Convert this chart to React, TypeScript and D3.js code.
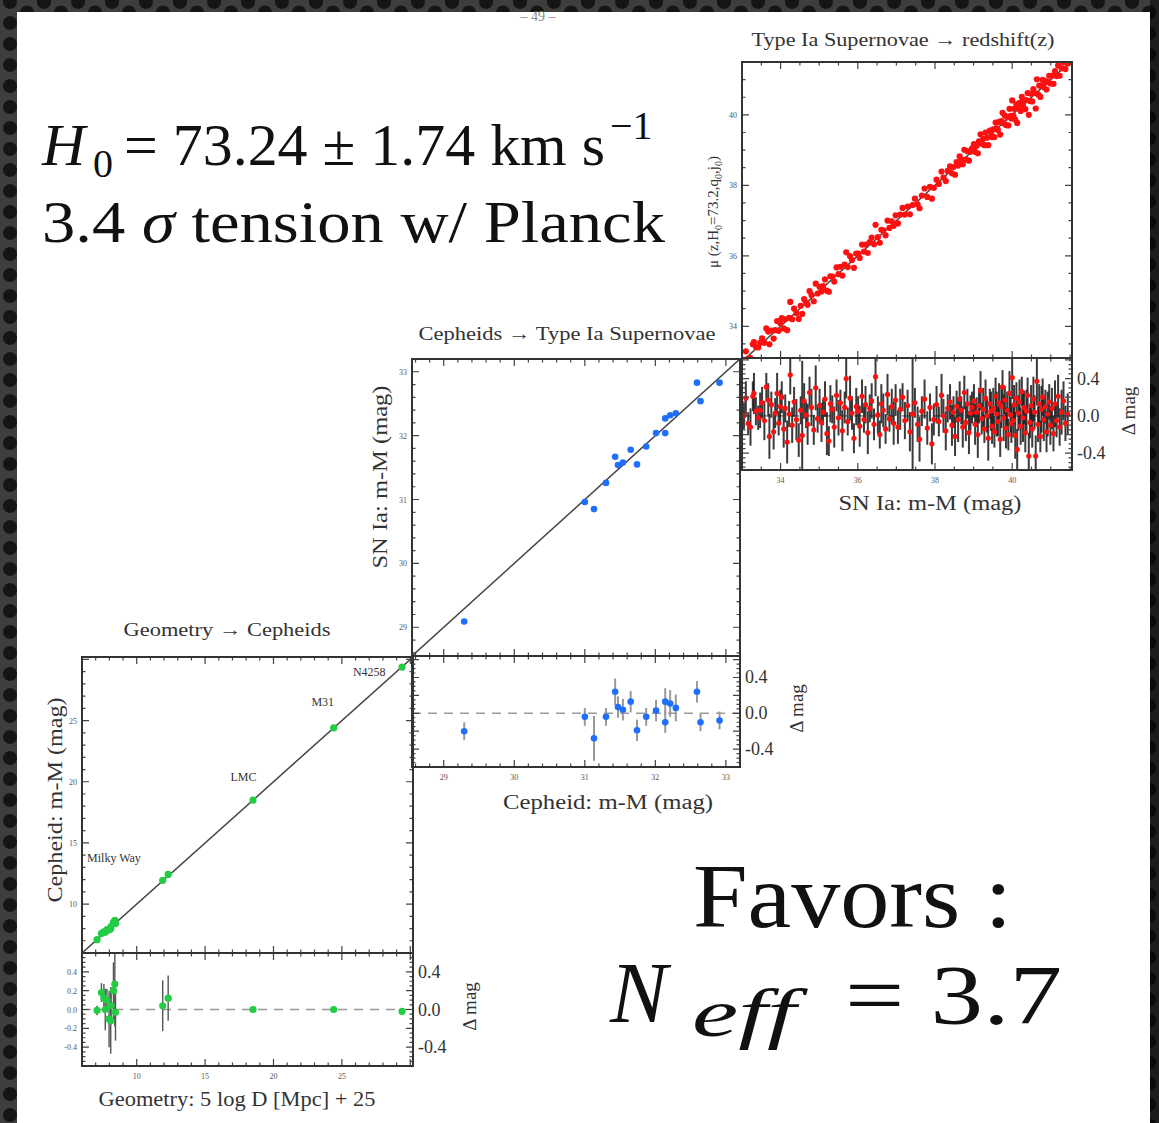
import React from "react";
import * as d3 from "d3";

const W = 1159;
const H = 1123;

// ---------- DATA ----------
// Geometry -> Cepheids (green)
const geoNames = ["Milky Way", "LMC", "M31", "N4258"];
const geoNameX = [6.37, 17.8, 23.6, 27.0];
const geoNameY = [13.45, 20.05, 26.2, 28.65];
const geoX = [7.1, 7.42, 7.6, 7.7, 7.82, 7.98, 8.1, 8.12, 8.3, 8.4, 8.45, 11.9, 12.3, 18.5, 24.4, 29.4];
const geoRes = [-0.01, 0.18, 0.12, 0.0, 0.1, -0.1, -0.12, 0.04, 0.2, 0.27, -0.03, 0.04, 0.12, 0.0, 0.0, -0.02];
const geoErr = [0.05, 0.1, 0.15, 0.22, 0.12, 0.3, 0.35, 0.2, 0.3, 0.45, 0.3, 0.27, 0.24, 0.02, 0.03, 0.03];

// Cepheids -> SN Ia (blue)
const cephX = [29.29, 31.0, 31.13, 31.3, 31.43, 31.47, 31.54, 31.65, 31.74, 31.87, 32.01, 32.14, 32.14, 32.21, 32.29, 32.59, 32.64, 32.91];
const cephRes = [-0.2, -0.04, -0.28, -0.04, 0.24, 0.07, 0.04, 0.13, -0.19, -0.04, 0.03, 0.13, -0.1, 0.11, 0.06, 0.24, -0.1, -0.08];
const cephErr = [0.1, 0.1, 0.25, 0.1, 0.15, 0.12, 0.12, 0.12, 0.12, 0.1, 0.12, 0.15, 0.12, 0.15, 0.15, 0.12, 0.1, 0.1];

// SN Ia -> redshift (red)
const snMu = [
  33.05, 33.10, 33.16, 33.22, 33.28, 33.31, 33.36, 33.42, 33.47, 33.52,
  33.58, 33.63, 33.68, 33.71, 33.76, 33.82, 33.86, 33.91, 33.95, 33.99,
  34.03, 34.08, 34.12, 34.17, 34.22, 34.25, 34.30, 34.35, 34.41, 34.47,
  34.52, 34.56, 34.61, 34.66, 34.70, 34.75, 34.80, 34.86, 34.91, 34.96,
  35.01, 35.06, 35.10, 35.15, 35.20, 35.25, 35.29, 35.34, 35.39, 35.45,
  35.50, 35.55, 35.60, 35.66, 35.70, 35.74, 35.80, 35.85, 35.90, 35.96,
  36.01, 36.05, 36.11, 36.16, 36.20, 36.26, 36.31, 36.36, 36.42, 36.46,
  36.52, 36.57, 36.61, 36.66, 36.72, 36.77, 36.82, 36.88, 36.93, 36.98,
  37.04, 37.10, 37.16, 37.22, 37.29, 37.35, 37.42, 37.48,
  37.55, 37.60, 37.66, 37.73, 37.80, 37.87, 37.92, 37.97,
  38.04, 38.10, 38.17, 38.22, 38.28, 38.33, 38.39, 38.44, 38.48,
  38.52, 38.56, 38.60, 38.64, 38.68, 38.72, 38.76, 38.80, 38.84, 38.88, 38.92, 38.96,
  39.01, 39.04, 39.08, 39.11, 39.14, 39.18, 39.21, 39.25, 39.28, 39.31, 39.35, 39.38, 39.42, 39.45, 39.48,
  39.51, 39.54, 39.57, 39.60, 39.63, 39.66, 39.69, 39.72, 39.75, 39.78, 39.81, 39.84, 39.87, 39.90, 39.93, 39.96, 39.98,
  40.00, 40.03, 40.05, 40.08, 40.11, 40.13, 40.16, 40.19, 40.22, 40.25, 40.28, 40.31, 40.34, 40.37, 40.40, 40.43, 40.46, 40.49,
  40.52, 40.55, 40.58, 40.61, 40.64, 40.67, 40.70, 40.73, 40.76, 40.79, 40.82, 40.86, 40.89, 40.92, 40.96, 40.99,
  41.03, 41.07, 41.11, 41.15, 41.19, 41.23, 41.28, 41.33, 41.38, 41.44,
];
const snRes = [
  0.00, 0.19, -0.08, -0.12, 0.21, 0.24, 0.05, -0.02, 0.06, 0.14,
  -0.05, 0.31, 0.17, -0.22, 0.12, -0.17, 0.03, 0.24, -0.08, 0.10,
  0.20, -0.14, 0.08, -0.28, 0.02, 0.44, -0.10, 0.15, -0.04, -0.26,
  0.06, -0.21, 0.16, 0.01, -0.09, 0.25, 0.09, -0.15, 0.30, -0.03,
  0.11, -0.07, 0.04, 0.18, -0.19, -0.27, 0.13, 0.07, -0.12, 0.22,
  -0.02, 0.14, -0.16, 0.09, 0.40, -0.06, 0.19, 0.03, -0.24, 0.10,
  0.05, -0.11, 0.21, -0.04, 0.12, -0.18, 0.08, 0.16, -0.09, 0.42,
  0.01, -0.20, 0.13, 0.06, -0.14, 0.23, -0.03, 0.10, -0.08, 0.17,
  -0.12, 0.07, 0.20, -0.05, 0.11, -0.17, 0.02, 0.14,
  -0.09, -0.25, 0.05, 0.18, -0.13, 0.09, -0.30, -0.04,
  0.12, -0.06, 0.22, 0.00, -0.16, 0.08, 0.15, -0.10, 0.04,
  -0.22, 0.10, -0.04, 0.18, 0.06, -0.12, 0.25, -0.07, 0.13, -0.18, 0.03, 0.09,
  0.16, -0.09, 0.04, -0.20, 0.11, 0.27, -0.03, 0.07, -0.14, 0.19, 0.00, -0.24, 0.13, 0.05, -0.11,
  0.08, -0.17, 0.21, 0.02, -0.06, 0.14, -0.25, 0.10, 0.31, -0.02, 0.17, -0.13, 0.06, -0.20, 0.24, 0.01, -0.08,
  0.41, -0.05, 0.12, -0.21, 0.19, -0.36, 0.03, 0.15, -0.11, 0.26, -0.02, 0.09, -0.18, 0.05, 0.22, -0.43, -0.07, 0.11,
  -0.14, 0.18, 0.04, -0.43, 0.37, -0.09, 0.13, -0.22, 0.07, 0.20, -0.04, 0.10, -0.17, 0.02, 0.15, -0.10,
  0.08, -0.19, 0.13, -0.05, 0.21, -0.12, 0.04, 0.16, -0.08, 0.02,
];
const snErr = [
  0.14, 0.18, 0.12, 0.20, 0.16, 0.22, 0.15, 0.13, 0.19, 0.17,
  0.21, 0.15, 0.18, 0.24, 0.14, 0.19, 0.16, 0.22, 0.13, 0.18,
  0.17, 0.20, 0.15, 0.23, 0.14, 0.21, 0.19, 0.16, 0.22, 0.18,
  0.15, 0.80, 0.19, 0.14, 0.22, 0.17, 0.20, 0.16, 0.24, 0.15,
  0.18, 0.21, 0.14, 0.19, 0.23, 0.16, 0.20, 0.15, 0.22, 0.17,
  0.19, 0.14, 0.22, 0.17, 0.21, 0.15, 0.24, 0.18, 0.16, 0.20,
  0.16, 0.22, 0.18, 0.14, 0.20, 0.23, 0.15, 0.19, 0.17, 0.21,
  0.20, 0.15, 0.21, 0.18, 0.16, 0.22, 0.14, 0.19, 0.23, 0.17,
  0.18, 0.22, 0.15, 0.20, 0.17, 0.21, 0.80, 0.16,
  0.19, 0.24, 0.16, 0.21, 0.18, 0.15, 0.22, 0.17,
  0.20, 0.16, 0.23, 0.18, 0.21, 0.15, 0.19, 0.22, 0.17,
  0.21, 0.17, 0.24, 0.19, 0.15, 0.22, 0.18, 0.20, 0.16, 0.23, 0.19, 0.17,
  0.18, 0.22, 0.16, 0.25, 0.19, 0.21, 0.17, 0.23, 0.15, 0.20, 0.18, 0.24, 0.16, 0.21, 0.19,
  0.22, 0.17, 0.20, 0.24, 0.16, 0.21, 0.19, 0.23, 0.18, 0.25, 0.15, 0.22, 0.20, 0.17, 0.24, 0.19, 0.21,
  0.23, 0.18, 0.21, 0.25, 0.17, 0.22, 0.19, 0.24, 0.20, 0.16, 0.26, 0.18, 0.21, 0.23, 0.19, 0.25, 0.17, 0.22,
  0.20, 0.24, 0.18, 0.22, 0.26, 0.19, 0.21, 0.17, 0.25, 0.20, 0.23, 0.18, 0.22, 0.24, 0.19, 0.21,
  0.22, 0.19, 0.25, 0.18, 0.23, 0.20, 0.24, 0.21, 0.19, 0.22,
];

// tick labels
const geoTickLabels = [10, 15, 20, 25];
const cephTickLabels = [29, 30, 31, 32, 33];
const snTickLabels = [34, 36, 38, 40];
const resBigTicks = [0.4, 0.0, -0.4];
const resSmallTicks = [0.4, 0.2, 0.0, -0.2, -0.4];

// ---------- LAYOUT ----------
const SERIF = "Liberation Serif, Times New Roman, serif";
const FRAME = "#333";

type Cfg = {
  id: string;
  x0: number; x1: number; y0: number; ym: number; y1: number;
  xDom: [number, number]; yDom: [number, number]; rDom: [number, number];
  xMaj: number; xMin: number; yMaj: number; yMin: number;
};

const P1: Cfg = { id: "p1", x0: 82, x1: 413, y0: 657, ym: 953, y1: 1066, xDom: [6, 30.2], yDom: [6, 30.2], rDom: [-0.6, 0.6], xMaj: 5, xMin: 1, yMaj: 5, yMin: 1 };
const P2: Cfg = { id: "p2", x0: 412, x1: 740, y0: 359, ym: 656, y1: 767, xDom: [28.55, 33.2], yDom: [28.55, 33.2], rDom: [-0.6, 0.64], xMaj: 1, xMin: 0.2, yMaj: 1, yMin: 0.2 };
const P3: Cfg = { id: "p3", x0: 742, x1: 1072, y0: 62, ym: 358, y1: 470, xDom: [33, 41.55], yDom: [33.1, 41.5], rDom: [-0.58, 0.62], xMaj: 2, xMin: 0.5, yMaj: 2, yMin: 0.5 };

function steps(dom: [number, number], step: number) {
  const out: number[] = [];
  const s = Math.ceil(dom[0] / step - 1e-6);
  const e = Math.floor(dom[1] / step + 1e-6);
  for (let i = s; i <= e; i++) out.push(+(i * step).toFixed(6));
  return out;
}

function tickPath(x0: number, x1: number, y0: number, y1: number, xs: any, ys: any, xMaj: number, xMin: number, yMaj: number, yMin: number) {
  let d = "";
  const dx = xs.domain() as [number, number];
  const dy = ys.domain() as [number, number];
  steps(dx, xMin).forEach((v) => {
    const major = Math.abs(v / xMaj - Math.round(v / xMaj)) < 1e-6;
    const L = major ? 7 : 3.5;
    const x = xs(v);
    d += `M${x},${y1}v${-L}M${x},${y0}v${L}`;
  });
  steps(dy, yMin).forEach((v) => {
    const major = Math.abs(v / yMaj - Math.round(v / yMaj)) < 1e-6;
    const L = major ? 7 : 3.5;
    const y = ys(v);
    d += `M${x0},${y}h${L}M${x1},${y}h${-L}`;
  });
  return d;
}

function Panel({ c, xs, res, err, color, errColor, errWidth, errOpacity, r, mainR, xLabels, yLabels, leftRes }: any) {
  const x = d3.scaleLinear().domain(c.xDom).range([c.x0, c.x1]);
  const y = d3.scaleLinear().domain(c.yDom).range([c.ym, c.y0]);
  const ry = d3.scaleLinear().domain(c.rDom).range([c.y1, c.ym]);
  const lo = Math.max(c.xDom[0], c.yDom[0]);
  const hi = Math.min(c.xDom[1], c.yDom[1]);
  const diag = d3.line<number>().x((v) => x(v)).y((v) => y(v))([lo - 1, hi + 1]) || "";
  const zero = d3.line<number>().x((v) => x(v)).y(() => ry(0))(c.xDom) || "";
  return (
    <g>
      <defs>
        <clipPath id={c.id + "m"}><rect x={c.x0} y={c.y0} width={c.x1 - c.x0} height={c.ym - c.y0} /></clipPath>
        <clipPath id={c.id + "r"}><rect x={c.x0} y={c.ym} width={c.x1 - c.x0} height={c.y1 - c.ym} /></clipPath>
      </defs>
      {/* main */}
      <g clipPath={`url(#${c.id}m)`}>
        <path d={diag} stroke="#444" strokeWidth={1.5} fill="none" />
        {xs.map((v: number, i: number) => (
          <circle key={i} cx={x(v)} cy={y(v + res[i])} r={mainR} fill={color} />
        ))}
      </g>
      <path d={tickPath(c.x0, c.x1, c.y0, c.ym, x, y, c.xMaj, c.xMin, c.yMaj, c.yMin)} stroke="#444" strokeWidth={1.2} fill="none" />
      <rect x={c.x0} y={c.y0} width={c.x1 - c.x0} height={c.ym - c.y0} fill="none" stroke={FRAME} strokeWidth={2} />
      {/* residual */}
      <g clipPath={`url(#${c.id}r)`}>
        <path d={zero} stroke="#999" strokeWidth={1.6} strokeDasharray="9,7" fill="none" />
        {xs.map((v: number, i: number) => (
          <line key={"e" + i} x1={x(v)} x2={x(v)} y1={ry(res[i] - err[i])} y2={ry(res[i] + err[i])} stroke={errColor} strokeWidth={errWidth} opacity={errOpacity} />
        ))}
        {xs.map((v: number, i: number) => (
          <circle key={"r" + i} cx={x(v)} cy={ry(res[i])} r={r} fill={color} />
        ))}
      </g>
      <path d={tickPath(c.x0, c.x1, c.ym, c.y1, x, ry, c.xMaj, c.xMin, 0.2, 0.05)} stroke="#444" strokeWidth={1.2} fill="none" />
      <rect x={c.x0} y={c.ym} width={c.x1 - c.x0} height={c.y1 - c.ym} fill="none" stroke={FRAME} strokeWidth={2} />
      {/* small tick labels */}
      {xLabels.map((v: number) => (
        <text key={"xl" + v} x={x(v)} y={c.y1 + 13} fontSize={8} fill="#555" textAnchor="middle" style={{ fontFamily: SERIF }}>{v}</text>
      ))}
      {yLabels.map((v: number) => (
        <text key={"yl" + v} x={c.x0 - 5} y={y(v) + 3} fontSize={8} fill="#555" textAnchor="end" style={{ fontFamily: SERIF }}>{v}</text>
      ))}
      {leftRes && resSmallTicks.map((v: number) => (
        <text key={"rl" + v} x={c.x0 - 5} y={ry(v) + 3} fontSize={8} fill="#555" textAnchor="end" style={{ fontFamily: SERIF }}>{v.toFixed(1)}</text>
      ))}
      {resBigTicks.map((v: number) => (
        <text key={"rb" + v} x={c.x1 + 5} y={ry(v) + 6} fontSize={18} fill="#333" style={{ fontFamily: SERIF }}>{v.toFixed(1)}</text>
      ))}
      <text transform={`translate(${c.x1 + 63},${(c.ym + c.y1) / 2 - 3}) rotate(-90)`} fontSize={19} fill="#333" textAnchor="middle" style={{ fontFamily: SERIF }}>Δ mag</text>
    </g>
  );
}

const big = { fontFamily: SERIF, fill: "#111" } as const;

export default function App() {
  const x1s = d3.scaleLinear().domain(P1.xDom).range([P1.x0, P1.x1]);
  const y1s = d3.scaleLinear().domain(P1.yDom).range([P1.ym, P1.y0]);
  return (
    <svg width={W} height={H} style={{ position: "absolute", left: 0, top: 0, display: "block" }}>
      <defs>
        <pattern id="holes" width={34} height={21} patternUnits="userSpaceOnUse">
          <rect width={34} height={21} fill="#3e3e3e" />
          <circle cx={10} cy={2} r={7} fill="#151515" />
          <circle cx={10} cy={23} r={7} fill="#151515" />
          <circle cx={27} cy={12.5} r={7} fill="#151515" />
        </pattern>
      </defs>
      <rect width={W} height={H} fill="url(#holes)" />
      <rect x={1150} width={9} height={H} fill="#000" opacity={0.55} />
      <rect x={17} y={12} width={1133} height={H - 12} fill="#fff" />

      <text x={538} y={21} fontSize={14} fill="#888" textAnchor="middle" style={{ fontFamily: SERIF }}>– 49 –</text>

      {/* titles */}
      <text x={903} y={46} fontSize={19} fill="#333" textAnchor="middle" style={{ fontFamily: SERIF }} textLength={303} lengthAdjust="spacingAndGlyphs">Type Ia Supernovae → redshift(z)</text>
      <text x={567} y={340} fontSize={19} fill="#333" textAnchor="middle" style={{ fontFamily: SERIF }} textLength={297} lengthAdjust="spacingAndGlyphs">Cepheids → Type Ia Supernovae</text>
      <text x={227} y={636} fontSize={19} fill="#333" textAnchor="middle" style={{ fontFamily: SERIF }} textLength={207} lengthAdjust="spacingAndGlyphs">Geometry → Cepheids</text>

      <Panel c={P3} xs={snMu} res={snRes} err={snErr} color="#ff1010" errColor="#1a1a1a" errWidth={2} errOpacity={0.85} r={2.6} mainR={3.1} xLabels={snTickLabels} yLabels={snTickLabels} leftRes={false} />
      <Panel c={P2} xs={cephX} res={cephRes} err={cephErr} color="#1f6fff" errColor="#999" errWidth={2} errOpacity={1} r={3.3} mainR={3.3} xLabels={cephTickLabels} yLabels={cephTickLabels} leftRes={false} />
      <Panel c={P1} xs={geoX} res={geoRes} err={geoErr} color="#22cc44" errColor="#555" errWidth={1.4} errOpacity={1} r={3.6} mainR={3.6} xLabels={geoTickLabels} yLabels={geoTickLabels} leftRes />

      {/* point names */}
      {geoNames.map((n, i) => (
        <text key={n} x={x1s(geoNameX[i])} y={y1s(geoNameY[i])} fontSize={12} fill="#333" textAnchor={i === 0 ? "start" : "middle"} style={{ fontFamily: SERIF }}>{n}</text>
      ))}

      {/* axis titles */}
      <text x={930} y={510} fontSize={20} fill="#333" textAnchor="middle" style={{ fontFamily: SERIF }} textLength={183} lengthAdjust="spacingAndGlyphs">SN Ia: m-M (mag)</text>
      <text x={608} y={809} fontSize={20} fill="#333" textAnchor="middle" style={{ fontFamily: SERIF }} textLength={210} lengthAdjust="spacingAndGlyphs">Cepheid: m-M (mag)</text>
      <text x={237} y={1106} fontSize={20} fill="#333" textAnchor="middle" style={{ fontFamily: SERIF }} textLength={277} lengthAdjust="spacingAndGlyphs">Geometry: 5 log D [Mpc] + 25</text>
      <text transform="translate(62,800) rotate(-90)" fontSize={20} fill="#333" textAnchor="middle" style={{ fontFamily: SERIF }} textLength={205} lengthAdjust="spacingAndGlyphs">Cepheid: m-M (mag)</text>
      <text transform="translate(387,477) rotate(-90)" fontSize={20} fill="#333" textAnchor="middle" style={{ fontFamily: SERIF }} textLength={183} lengthAdjust="spacingAndGlyphs">SN Ia: m-M (mag)</text>
      <text transform="translate(718,212) rotate(-90)" fontSize={15} fill="#333" textAnchor="middle" style={{ fontFamily: SERIF }}>
        μ (z,H<tspan fontSize={10} dy={4}>0</tspan><tspan dy={-4}>=73.2,q</tspan><tspan fontSize={10} dy={4}>0</tspan><tspan dy={-4}>,j</tspan><tspan fontSize={10} dy={4}>0</tspan><tspan dy={-4}>)</tspan>
      </text>

      {/* big annotations */}
      <text x={42} y={165} fontSize={60} fontStyle="italic" style={big}>H</text>
      <text x={93} y={177} fontSize={40} style={big}>0</text>
      <text x={124} y={165} fontSize={60} style={big} textLength={481} lengthAdjust="spacingAndGlyphs">= 73.24 ± 1.74 km s</text>
      <text x={610} y={139} fontSize={40} style={big}>−1</text>
      <text x={42} y={242} fontSize={60} style={big} textLength={623} lengthAdjust="spacingAndGlyphs">3.4 <tspan fontStyle="italic">σ</tspan> tension w/ Planck</text>
      <text x={693} y={927} fontSize={90} style={big} textLength={319} lengthAdjust="spacingAndGlyphs">Favors :</text>
      <text x={610} y={1022} fontSize={86} fontStyle="italic" style={big}>N</text>
      <text x={692} y={1036} fontSize={68} fontStyle="italic" style={big} textLength={104} lengthAdjust="spacingAndGlyphs">eff</text>
      <text x={845} y={1024} fontSize={84} style={big} textLength={217} lengthAdjust="spacingAndGlyphs">= 3.7</text>
    </svg>
  );
}
